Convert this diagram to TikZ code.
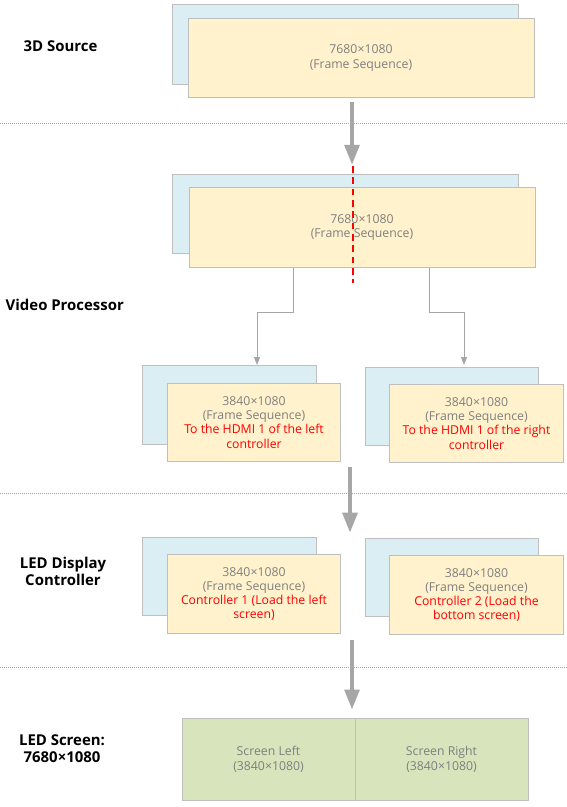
\documentclass[tikz,border=0pt]{standalone}
\usepackage{fontspec}
\setmainfont{Open Sans}
\usetikzlibrary{arrows.meta}
\definecolor{backblue}{HTML}{DAEEF3}
\definecolor{frontcream}{HTML}{FFF2CC}
\definecolor{screengreen}{HTML}{D8E4BC}
\definecolor{edgegray}{HTML}{BFBFBF}
\definecolor{flowgray}{HTML}{A6A6A6}
\definecolor{textgray}{HTML}{7F7F7F}
\definecolor{notered}{HTML}{FF0000}

\begin{document}
\begin{tikzpicture}[x=0.75pt,y=-0.75pt,
		backbox/.style={draw=edgegray,fill=backblue,line width=0.75pt},
		frontbox/.style={draw=edgegray,fill=frontcream,line width=0.75pt,align=center,text=textgray,font=\fontsize{9.2}{10.6}\selectfont},
		screenbox/.style={draw=edgegray,fill=screengreen,line width=0.75pt,align=center,text=textgray,font=\fontsize{9.2}{11.5}\selectfont,minimum width=129.75pt,minimum height=61.5pt},
		widebox/.style={minimum width=259.5pt,minimum height=59.5pt},
		smallbox/.style={minimum width=130pt,minimum height=59pt},
		stagelabel/.style={font=\fontsize{11.2}{12.9}\selectfont\bfseries,align=center},
		sepline/.style={flowgray,line width=0.5pt,dash pattern=on 0.75pt off 0.75pt},
		bigflow/.style={flowgray,line width=3pt,-{Triangle[length=15pt,width=11pt]}},
		feed/.style={flowgray,line width=0.75pt,-{Triangle[length=6pt,width=4.5pt]}},
		cutline/.style={notered,line width=0.9pt,dash pattern=on 5pt off 3.5pt}]
		\useasboundingbox (0,0) rectangle (567,807);

		% stage labels
		\node[stagelabel,anchor=west] (lsrc) at (19,46) {3D Source};
		\node[stagelabel,anchor=west] (lvp) at (1,305) {Video Processor};
		\node[stagelabel] (lctl) at (63,571) {LED Display\\Controller};
		\node[stagelabel] (lscr) at (62,749) {LED Screen:\\7680×1080};

		% separators
		\draw[sepline] (0,123) -- (567,123);
		\draw[sepline] (0,493) -- (567,493);
		\draw[sepline] (0,667) -- (567,667);

		% 3D source
		\node[backbox,widebox] (srcb) at (345,44.5) {};
		\node[frontbox,widebox] (srcf) at (361,58) {7680×1080\\(Frame Sequence)};

		% video processor
		\node[backbox,widebox] (vpb) at (345.5,214) {};
		\node[frontbox,widebox] (vpf) at (362,227.5) {7680×1080\\(Frame Sequence)};
		\draw[cutline] (353,166) -- (353,283);

		% processor outputs
		\node[backbox,smallbox] (hdlb) at (229.5,405) {};
		\node[frontbox,smallbox] (hdlf) at (254,422.5) {3840×1080\\(Frame Sequence)\\\textcolor{notered}{To the HDMI 1 of the left}\\\textcolor{notered}{controller}};
		\node[backbox,smallbox] (hdrb) at (452,406.5) {};
		\node[frontbox,smallbox] (hdrf) at (476.5,423.5) {3840×1080\\(Frame Sequence)\\\textcolor{notered}{To the HDMI 1 of the right}\\\textcolor{notered}{controller}};

		% controllers
		\node[backbox,smallbox] (ctlb) at (229.5,576.5) {};
		\node[frontbox,smallbox] (ctlf) at (254,594) {3840×1080\\(Frame Sequence)\\\textcolor{notered}{Controller 1 (Load the left}\\\textcolor{notered}{screen)}};
		\node[backbox,smallbox] (ctrb) at (452,577.5) {};
		\node[frontbox,smallbox] (ctrf) at (476.5,595) {3840×1080\\(Frame Sequence)\\\textcolor{notered}{Controller 2 (Load the}\\\textcolor{notered}{bottom screen)}};

		% screen
		\node[screenbox] (scrl) at (268.5,759) {Screen Left\\(3840×1080)};
		\node[screenbox] (scrr) at (441.5,759) {Screen Right\\(3840×1080)};

		% flow
		\draw[bigflow,shorten <=3pt,shorten >=6.75pt] (srcf.south -| 352,0) -- (vpb.north -| 352,0);
		\coordinate (lin) at (257,365);
		\coordinate (rin) at (464,365);
		\draw[feed] (vpf.south -| 293,0) -- ++(0,45) -| (lin);
		\draw[feed] (vpf.south -| 429,0) -- ++(0,45) -| (rin);
		\draw[bigflow,shorten <=3.75pt,shorten >=3pt] (hdlf.south -| 350,0) -- (ctlb.north -| 350,0);
		\draw[bigflow,shorten <=4.5pt,shorten >=6pt] (ctlf.south -| 352,0) -- (scrl.north -| 352,0);
	\end{tikzpicture}
\end{document}
